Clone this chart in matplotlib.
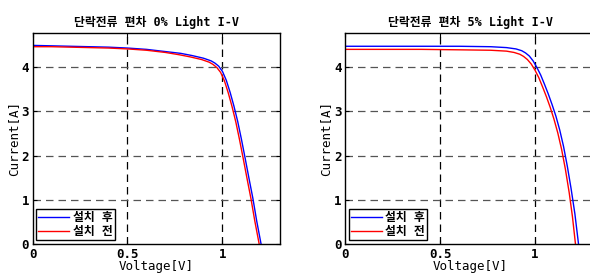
import matplotlib.pyplot as plt

plt.rcParams['font.family'] = ['DejaVu Sans Mono', 'Noto Sans CJK KR']
plt.rcParams['font.weight'] = 'bold'
plt.rcParams['font.size'] = 8

# Panel 1: 편차 0%
v_after_0 = [0, 0.1, 0.2, 0.3, 0.4, 0.5, 0.6, 0.7, 0.78, 0.84, 0.9, 0.94, 0.96, 0.98,
             1.0, 1.02, 1.04, 1.06, 1.08, 1.10, 1.12, 1.14, 1.16, 1.18, 1.203]
i_after_0 = [4.49, 4.48, 4.47, 4.46, 4.45, 4.43, 4.40, 4.35, 4.31, 4.26, 4.20, 4.14, 4.09, 4.02,
             3.90, 3.70, 3.43, 3.12, 2.77, 2.36, 1.92, 1.47, 1.03, 0.52, 0.0]
v_before_0 = [0, 0.1, 0.2, 0.3, 0.4, 0.5, 0.6, 0.7, 0.77, 0.83, 0.89, 0.93, 0.95, 0.97,
              0.99, 1.01, 1.03, 1.05, 1.07, 1.09, 1.11, 1.13, 1.15, 1.17, 1.193]
i_before_0 = [4.46, 4.46, 4.45, 4.44, 4.43, 4.41, 4.38, 4.33, 4.28, 4.23, 4.17, 4.11, 4.06, 3.99,
              3.88, 3.69, 3.42, 3.11, 2.76, 2.35, 1.91, 1.46, 1.02, 0.52, 0.0]

# Panel 2: 편차 5%
v_after_5 = [0, 0.2, 0.4, 0.6, 0.767, 0.85, 0.9, 0.93, 0.95, 0.97, 0.99, 1.01, 1.03,
             1.05, 1.07, 1.09, 1.11, 1.13, 1.15, 1.17, 1.19, 1.21, 1.229]
i_after_5 = [4.47, 4.47, 4.47, 4.47, 4.46, 4.44, 4.41, 4.37, 4.32, 4.25, 4.14, 3.99, 3.82,
             3.61, 3.39, 3.15, 2.89, 2.58, 2.21, 1.76, 1.25, 0.68, 0.0]
v_before_5 = [0, 0.2, 0.4, 0.6, 0.767, 0.85, 0.89, 0.92, 0.94, 0.96, 0.98, 1.0, 1.02,
              1.04, 1.06, 1.08, 1.10, 1.12, 1.14, 1.16, 1.18, 1.197, 1.213]
i_before_5 = [4.40, 4.40, 4.40, 4.39, 4.38, 4.36, 4.33, 4.29, 4.24, 4.17, 4.07, 3.93, 3.76,
              3.55, 3.33, 3.09, 2.82, 2.51, 2.14, 1.69, 1.16, 0.62, 0.0]

titles = ['단락전류 편차 0% Light I-V', '단락전류 편차 5% Light I-V']
series = [(v_after_0, i_after_0, v_before_0, i_before_0),
          (v_after_5, i_after_5, v_before_5, i_before_5)]
x_ticks = [0, 0.5, 1]
x_tick_labels = ['0', '0.5', '1']
y_ticks = [0, 1, 2, 3, 4]

fig = plt.figure(figsize=(5.9, 2.78), dpi=100)
lefts = [32.5 / 590, 345 / 590]
widths = [247 / 590, 250 / 590]
for k, (va, ia, vb, ib) in enumerate(series):
    ax = fig.add_axes([lefts[k], 34 / 278, widths[k], 211 / 278])
    ax.plot(va, ia, color='#0000ff', lw=1.0, label='설치 후')
    ax.plot(vb, ib, color='#ff0000', lw=1.0, label='설치 전')
    ax.set_xlim(0, 1.3 * widths[k] / widths[0])
    ax.set_ylim(0, 4.77)
    ax.set_xticks(x_ticks)
    ax.set_xticklabels(x_tick_labels)
    ax.set_yticks(y_ticks)
    for x in x_ticks[1:]:
        ax.axvline(x, color='black', ls=(0, (6, 4)), lw=0.9, zorder=0)
    for y in y_ticks[1:]:
        ax.axhline(y, color='#555555', ls=(0, (6, 4)), lw=0.9, zorder=0)
    ax.tick_params(direction='in', length=3, width=0.8, top=True, right=True,
                   labelsize=9)
    ax.tick_params(axis='x', pad=3)
    ax.tick_params(axis='y', pad=2.5)
    for s in ax.spines.values():
        s.set_linewidth(1.0)
    ax.set_title(titles[k], fontsize=8.5, fontweight='bold', pad=5)
    ax.set_xlabel('Voltage[V]', fontsize=9, labelpad=-1)
    ax.set_ylabel('Current[A]', fontsize=9, labelpad=1)
    leg = ax.legend(loc='lower left', fancybox=False, framealpha=1, edgecolor='black',
                    borderpad=0.2, handlelength=2.6, handletextpad=0.3,
                    labelspacing=0.1, borderaxespad=0.3, fontsize=8.5)
    leg.get_frame().set_linewidth(1.0)

fig.savefig('out.png', dpi=100)
